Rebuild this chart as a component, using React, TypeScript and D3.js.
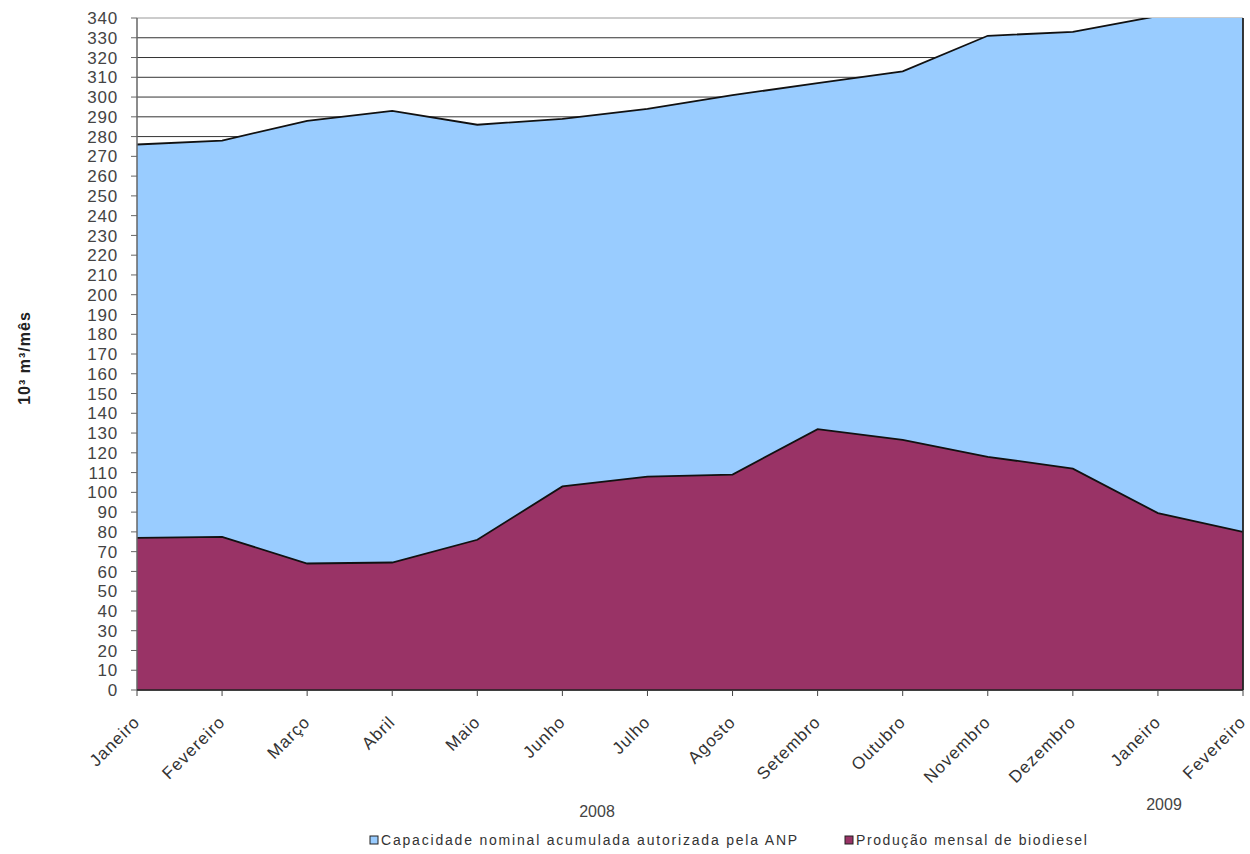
import React from "react";
import * as d3 from "d3";

const months = [
  "Janeiro", "Fevereiro", "Março", "Abril", "Maio", "Junho", "Julho",
  "Agosto", "Setembro", "Outubro", "Novembro", "Dezembro", "Janeiro", "Fevereiro",
];
// Capacidade nominal acumulada autorizada pela ANP (10³ m³/mês)
const capacidade = [276, 278, 288, 293, 286, 289, 294, 301, 307, 313, 331, 333, 341, 352];
// Produção mensal de biodiesel (10³ m³/mês)
const producao = [77, 77.5, 64, 64.5, 76, 103, 108, 109, 132, 126.5, 118, 112, 89.5, 80];
const yTicks = d3.range(0, 341, 10);
const seriesNames = ["Capacidade nominal acumulada autorizada pela ANP", "Produção mensal de biodiesel"];

const W = 1250;
const H = 854;
const left = 137;
const right = 1243;
const top = 18;
const bottom = 690;

const BLUE = "#99CCFF";
const PURPLE = "#993366";
const FONT = "Arial, 'Liberation Sans', sans-serif";

export default function App() {
  const x = d3.scalePoint<number>().domain(d3.range(months.length)).range([left, right]);
  const y = d3.scaleLinear().domain([0, 340]).range([bottom, top]);

  const area = d3
    .area<number>()
    .x((_, i) => x(i) as number)
    .y0(y(0))
    .y1((d) => y(d));
  const line = d3
    .line<number>()
    .x((_, i) => x(i) as number)
    .y((d) => y(d));

  return (
    <svg
      width={W}
      height={H}
      style={{ position: "absolute", left: 0, top: 0, background: "#fff" }}
      fontFamily={FONT}
    >
      <defs>
        <clipPath id="plot">
          <rect x={left} y={top} width={right - left} height={bottom - top} />
        </clipPath>
      </defs>

      {/* gridlines */}
      {yTicks.map((t) => (
        <line
          key={t}
          x1={left}
          x2={right}
          y1={y(t)}
          y2={y(t)}
          stroke={t === 340 ? "#999" : "#333"}
          strokeWidth={1}
        />
      ))}

      <g clipPath="url(#plot)">
        <path d={area(capacidade) ?? ""} fill={BLUE} />
        <path d={line(capacidade) ?? ""} fill="none" stroke="#111" strokeWidth={1.8} />
        <path d={area(producao) ?? ""} fill={PURPLE} />
        <path d={line(producao) ?? ""} fill="none" stroke="#111" strokeWidth={1.8} />
      </g>
      {/* right edge of areas */}
      <line x1={right} x2={right} y1={top} y2={bottom} stroke="#222" strokeWidth={1.8} />

      {/* y axis */}
      <line x1={left} x2={left} y1={top} y2={bottom} stroke="#666" strokeWidth={1.5} />
      {yTicks.map((t) => (
        <g key={t}>
          <line x1={left - 6} x2={left} y1={y(t)} y2={y(t)} stroke="#666" strokeWidth={1} />
          <text
            x={118}
            y={y(t)}
            dy="0.36em"
            textAnchor="end"
            fontSize={17}
            letterSpacing={0.8}
            fill="#444"
          >
            {t}
          </text>
        </g>
      ))}
      <text
        transform={`translate(24, 358) rotate(-90)`}
        dy="0.35em"
        textAnchor="middle"
        fontSize={16}
        fontWeight="bold"
        letterSpacing={1}
        fill="#222"
      >
        10³ m³/mês
      </text>

      {/* x axis */}
      <line x1={left} x2={right} y1={bottom} y2={bottom} stroke="#222" strokeWidth={1.5} />
      {months.map((m, i) => {
        const px = x(i) as number;
        return (
          <g key={i}>
            <line x1={px} x2={px} y1={bottom} y2={bottom + 6} stroke="#444" strokeWidth={1} />
            <text
              transform={`translate(${px + 4}, 723) rotate(-45)`}
              textAnchor="end"
              fontSize={17}
              letterSpacing={1}
              fill="#333"
            >
              {m}
            </text>
          </g>
        );
      })}

      <text x={597} y={817} textAnchor="middle" fontSize={16} fill="#444">2008</text>
      <text x={1164} y={810} textAnchor="middle" fontSize={16} fill="#444">2009</text>

      {/* legend */}
      <g fontSize={14} fill="#333">
        <rect x={370} y={836} width={8} height={8} fill={BLUE} stroke="#222" strokeWidth={1} />
        <text x={381} y={845} letterSpacing={1.8}>{seriesNames[0]}</text>
        <rect x={845} y={836} width={8} height={8} fill={PURPLE} stroke="#222" strokeWidth={1} />
        <text x={856} y={845} letterSpacing={1.6}>{seriesNames[1]}</text>
      </g>
    </svg>
  );
}
